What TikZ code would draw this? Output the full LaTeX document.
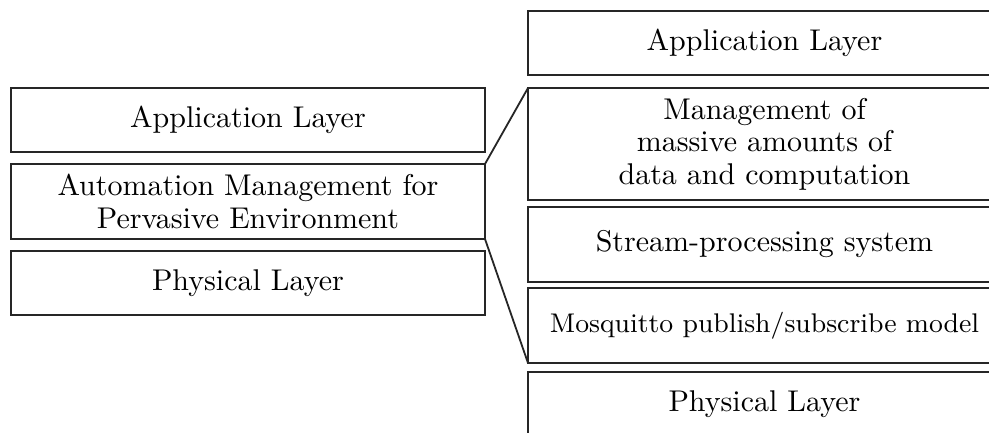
\documentclass[tikz,border=0pt]{standalone}
\begin{document}
\begin{tikzpicture}[x=0.33333pt,y=-0.33333pt,
  layerbox/.style={draw=black!85, line width=0.6pt, rectangle, inner sep=0pt, outer sep=0pt,
    align=center, font=\fontsize{10}{10.8}\selectfont},
  leftbox/.style={layerbox, minimum width=158pt},
  rightbox/.style={layerbox, minimum width=157.67pt},
  h64/.style={minimum height=21.333pt},
  h75/.style={minimum height=25pt},
  link/.style={draw=black!85, line width=0.6pt}]
\useasboundingbox (0,0) rectangle (989,432);
\fill[white] (0,0) rectangle (989,432);
\clip (0,0) rectangle (989,432);
% left stack
\node[leftbox,h64] (lapp) at (248,120) {Application Layer};
\node[leftbox,h75] (lauto) at (248,201.5) {Automation Management for\\Pervasive Environment};
\node[leftbox,h64] (lphys) at (248,283) {Physical Layer};
% right stack
\node[rightbox,h64] (rapp) at (764.5,43) {Application Layer};
\node[rightbox,minimum height=37.333pt] (rman) at (764.5,144) {Management of\\massive amounts of\\data and computation};
\node[rightbox,h75] (rstr) at (764.5,244.5) {Stream-processing system};
\node[rightbox,h75,font=\small] (rmos) at (764.5,325.5) {Mosquitto publish/subscribe model};
\node[rightbox,h64] (rphys) at (764.5,404) {Physical Layer};
% zoom lines
\draw[link] (lauto.north east) -- (rman.north west);
\draw[link] (lauto.south east) -- (rmos.south west);
\end{tikzpicture}
\end{document}
